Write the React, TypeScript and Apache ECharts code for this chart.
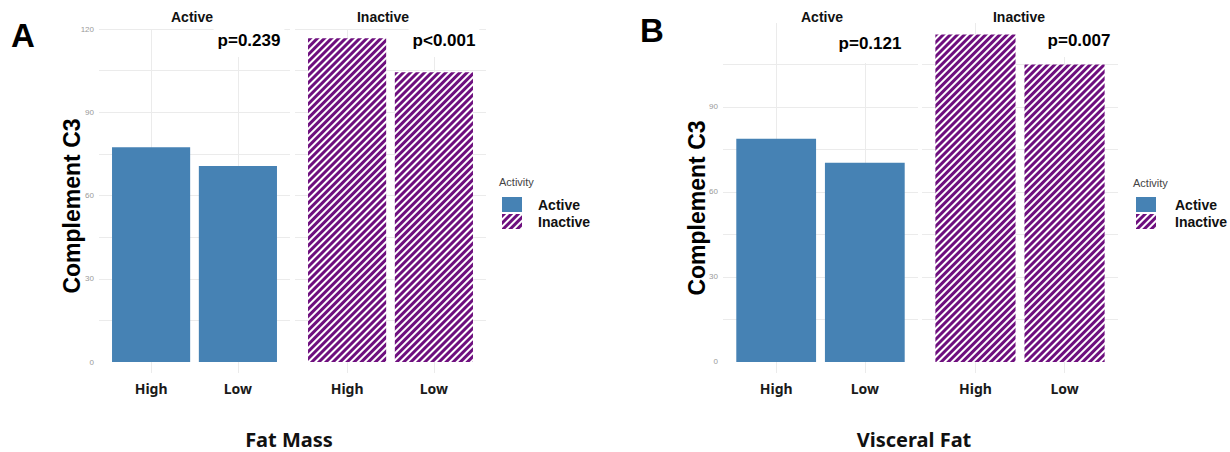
import React, { useEffect, useRef } from 'react';
import * as echarts from 'echarts';

// ---- data ----
const groups = ['High', 'Low'];
const activityLevels = ['Active', 'Inactive'];
const fatMassActive = [77.4, 70.6];
const fatMassInactive = [116.7, 104.4];
const visceralActive = [78.8, 70.3];
const visceralInactive = [115.5, 105.0];
const fatMassP = ['p=0.239', 'p<0.001'];
const visceralP = ['p=0.121', 'p=0.007'];
const yGridValues = [0, 15, 30, 45, 60, 75, 90, 105, 120];
const yLabelValues = [0, 30, 60, 90, 120];
const panelLetters = ['A', 'B'];
const xTitles = ['Fat Mass', 'Visceral Fat'];
const yTitle = 'Complement C3';
const legendTitle = 'Activity';

const BLUE = '#4682B4';
const PURPLE = '#6e0f7e';
const GRID = '#ebebeb';
const ARIAL = '"Liberation Sans", Arial, sans-serif';
const SEGOE = '"Noto Sans", "Open Sans", sans-serif';

export default function App() {
  const ref = useRef<HTMLDivElement>(null);

  useEffect(() => {
    document.body.style.margin = '0';
    const chart = echarts.init(ref.current!, null, { renderer: 'svg', width: 1230, height: 452 });

    const stripeDecal = {
      symbol: 'rect',
      symbolSize: 1,
      color: PURPLE,
      dashArrayX: [1, 0],
      dashArrayY: [2.2, 1.8],
      rotation: -Math.PI / 4,
    };

    const facets = [
      { left: 99, width: 191, top: 29, height: 344, min: -3.96, max: 120, showY: true, act: 'Active', values: fatMassActive },
      { left: 295, width: 191, top: 29, height: 344, min: -3.96, max: 120, showY: false, act: 'Inactive', values: fatMassInactive },
      { left: 723, width: 195, top: 23, height: 350, min: -3.9, max: 119.6, showY: true, act: 'Active', values: visceralActive },
      { left: 922, width: 196, top: 23, height: 350, min: -3.9, max: 119.6, showY: false, act: 'Inactive', values: visceralInactive },
    ];

    const grid = facets.map((f) => ({ left: f.left, width: f.width, top: f.top, height: f.height, containLabel: false }));

    const xAxis = facets.map((f, i) => ({
      type: 'value',
      gridIndex: i,
      min: 0.4,
      max: 2.6,
      axisLine: { show: false },
      axisTick: { show: false, customValues: [1, 2] },
      splitLine: { show: true, lineStyle: { color: GRID, width: 1 } },
      axisLabel: {
        customValues: [1, 2],
        formatter: (v: number) => groups[Math.round(v) - 1] ?? '',
        margin: 8,
        fontFamily: SEGOE,
        fontWeight: 'bold',
        fontSize: 14,
        color: '#1a1a1a',
      },
    }));

    const yAxis = facets.map((f, i) => ({
      type: 'value',
      gridIndex: i,
      min: f.min,
      max: f.max,
      axisLine: { show: false },
      axisTick: { show: false, customValues: yGridValues.filter((v) => v <= f.max) },
      splitLine: { show: true, showMinLine: false, showMaxLine: true, lineStyle: { color: GRID, width: 1 } },
      axisLabel: {
        show: f.showY,
        customValues: yLabelValues.filter((v) => v <= f.max),
        formatter: (v: number) => String(v),
        margin: 5,
        fontFamily: ARIAL,
        fontSize: 8,
        color: '#9a9a9a',
      },
    }));

    const series = facets.map((f, i) => ({
      type: 'bar',
      name: f.act,
      xAxisIndex: i,
      yAxisIndex: i,
      barWidth: (0.9 * f.width) / 2.2,
      data: f.values.map((v, k) => [k + 1, v]),
      itemStyle:
        f.act === 'Active'
          ? { color: BLUE }
          : { color: '#ffffff', decal: stripeDecal },
      emphasis: { disabled: true },
    }));

    const legendBase = {
      orient: 'vertical',
      icon: 'rect',
      itemWidth: 20,
      itemHeight: 15,
      itemGap: 2,
      selectedMode: false,
      data: activityLevels,
      textStyle: { fontFamily: ARIAL, fontWeight: 'bold', fontSize: 14, color: '#111' },
    };
    const legend = [
      { ...legendBase, left: 497, top: 192, textStyle: { ...legendBase.textStyle, padding: [0, 0, 0, 11] } },
      { ...legendBase, left: 1131, top: 192, textStyle: { ...legendBase.textStyle, padding: [0, 0, 0, 14] } },
    ];

    const txt = (x: number, y: number, text: string, font: string, size: number, opts: any = {}) => ({
      type: 'text',
      x,
      y,
      rotation: opts.rotation ?? 0,
      z: 100,
      style: {
        text,
        fontFamily: font,
        fontSize: size,
        fontWeight: opts.weight ?? 'bold',
        fill: opts.fill ?? '#111',
        align: opts.align ?? 'center',
        verticalAlign: 'middle',
        backgroundColor: opts.bg,
        padding: opts.pad,
      },
    });

    const pBox = { fill: '#000', bg: '#ffffff', pad: [10, 4, 7, 4] };

    const graphic = [
      txt(23, 35, panelLetters[0], ARIAL, 33, { fill: '#000' }),
      txt(652, 30, panelLetters[1], ARIAL, 33, { fill: '#000' }),
      txt(192, 17, activityLevels[0], ARIAL, 14),
      txt(383, 17, activityLevels[1], ARIAL, 14),
      txt(822, 17, activityLevels[0], ARIAL, 14),
      txt(1019, 17, activityLevels[1], ARIAL, 14),
      txt(249, 40, fatMassP[0], ARIAL, 17, pBox),
      txt(444, 40, fatMassP[1], ARIAL, 17, pBox),
      txt(870, 43, visceralP[0], ARIAL, 17, { ...pBox, pad: [16, 4, 7, 4] }),
      txt(1079, 40, visceralP[1], ARIAL, 17, pBox),
      txt(72, 206, yTitle, ARIAL, 23, { rotation: Math.PI / 2, fill: '#000' }),
      txt(697, 208, yTitle, ARIAL, 23, { rotation: Math.PI / 2, fill: '#000' }),
      txt(289, 439, xTitles[0], SEGOE, 20, { fill: '#111' }),
      txt(914, 439, xTitles[1], SEGOE, 20, { fill: '#111' }),
      txt(499, 182, legendTitle, ARIAL, 11, { weight: 'normal', fill: '#444', align: 'left' }),
      txt(1133, 183, legendTitle, ARIAL, 11, { weight: 'normal', fill: '#444', align: 'left' }),
    ];

    chart.setOption({
      animation: false,
      backgroundColor: '#ffffff',
      grid,
      xAxis,
      yAxis,
      series,
      legend,
      graphic,
    });

    return () => chart.dispose();
  }, []);

  return <div ref={ref} style={{ width: 1230, height: 452 }} />;
}
